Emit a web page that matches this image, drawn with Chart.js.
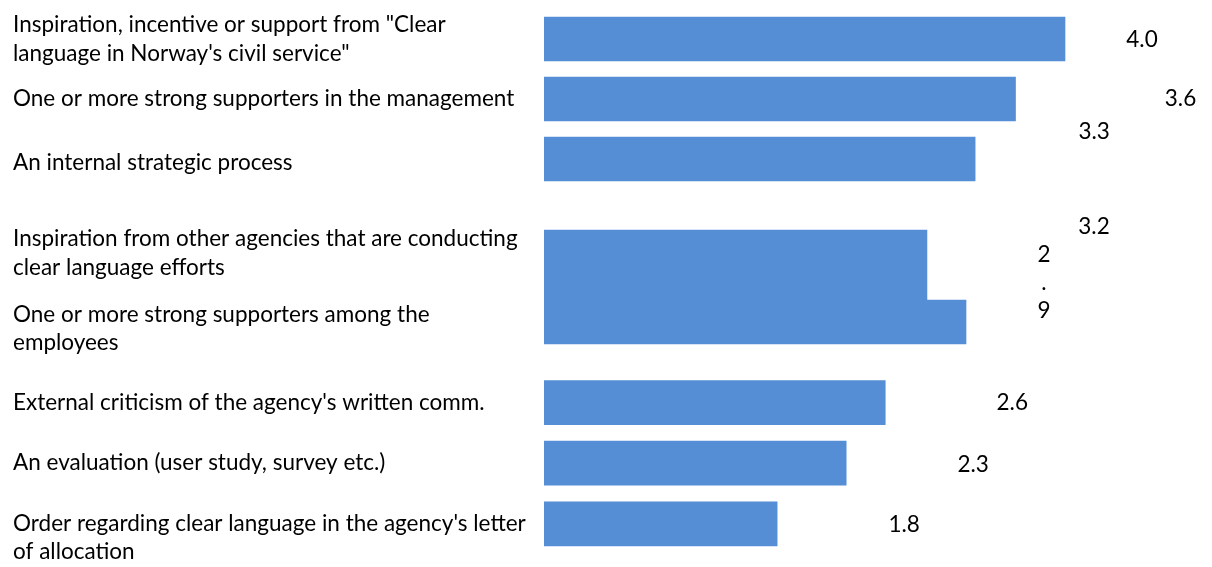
<!DOCTYPE html>
<html>
<head>
<meta charset="utf-8">
<title>Clear language efforts</title>
<script src="https://cdn.jsdelivr.net/npm/chart.js"></script>
<style>
  html, body { margin: 0; padding: 0; background: #fff; }
  #wrap { width: 1212px; height: 567px; position: relative; }
</style>
</head>
<body>
<div id="wrap"><canvas id="factors"></canvas></div>
<script>
// categories, one array of lines per bar
const categories = [
    ['Inspiration, incentive or support from "Clear', 'language in Norway\'s civil service"'],
    'One or more strong supporters in the management',
    'An internal strategic process',
    ['Inspiration from other agencies that are conducting', 'clear language efforts'],
    ['One or more strong supporters among the', 'employees'],
    'External criticism of the agency\'s written comm.',
    'An evaluation (user study, survey etc.)',
    ['Order regarding clear language in the agency\'s letter', 'of allocation']
];
const values = [4.0, 3.62, 3.31, 2.94, 3.24, 2.62, 2.32, 1.79];

// where things sit, in row units counted from the top bar
const barRow   = [0, 0.99, 1.98, 3.73, 4.67, 6.0, 7.0, 8.0];
const labelRow = [0, 0.98, 2.05, 3.53, 4.78, 6.0, 7.0, 8.23];
const tallBar = 3;          // this one is drawn thicker
// value label shift from the bar end / bar middle, px; last flag = one char per line
const labelShift = [
    [77, 1], [165, 0], [119, -27], [117, 18, true],
    [128, -95], [127, 0], [127, 2], [127, 1]
];

const barColor = '#558ED5';
const fontFamily = 'Lato, "Liberation Sans", sans-serif';
const fontSize = 22.5;
const rowPx = 60.6, firstRowPx = 39, H = 567;

const mainPts = [], tallPts = [];
values.forEach((v, i) => {
    (i === tallBar ? tallPts : mainPts).push({ x: v, y: barRow[i], i: i });
});

const rowMin = -firstRowPx / rowPx;
const rowMax = (H - firstRowPx) / rowPx;

const valueLabels = {
    id: 'valueLabels',
    afterDatasetsDraw(chart) {
        const c = chart.ctx;
        c.save();
        c.font = fontSize + 'px ' + fontFamily;
        c.fillStyle = '#000';
        c.textAlign = 'center';
        c.textBaseline = 'middle';
        chart.data.datasets.forEach((ds, d) => {
            chart.getDatasetMeta(d).data.forEach((bar, j) => {
                const i = ds.data[j].i;
                const s = labelShift[i];
                const txt = values[i].toFixed(1);
                const x = bar.x + s[0], y = bar.y + s[1];
                if (s[2]) {
                    const chars = txt.split('');
                    chars.forEach((ch, k) => c.fillText(ch, x, y + (k - (chars.length - 1) / 2) * 28));
                } else {
                    c.fillText(txt, x, y);
                }
            });
        });
        c.restore();
    }
};

const myChart = new Chart(document.getElementById('factors'), {
    type: 'bar',
    data: {
        datasets: [
            // same stack so the two sets don't share the row height
            { data: mainPts, stack: 'rows', backgroundColor: barColor, barThickness: 44 },
            { data: tallPts, stack: 'rows', backgroundColor: barColor, barThickness: 70 }
        ]
    },
    options: {
        indexAxis: 'y',
        responsive: true,
        maintainAspectRatio: false,
        animation: false,
        layout: { padding: { left: 13, right: 0, top: 0, bottom: 0 } },
        plugins: {
            legend: { display: false },
            tooltip: { enabled: false }
        },
        scales: {
            x: {
                type: 'linear',
                stacked: false,
                min: 0,
                max: 668 / 130.25,
                display: false
            },
            y: {
                type: 'linear',
                reverse: true,
                offset: false,
                min: rowMin,
                max: rowMax,
                grid: { display: false },
                border: { display: false },
                afterBuildTicks: (s) => { s.ticks = labelRow.map(v => ({ value: v })); },
                afterFit: (s) => {
                    s.width = 531;
                    // labels may hang over the ends, keep the full height for bars
                    s.paddingTop = 0;
                    s.paddingBottom = 0;
                },
                ticks: {
                    autoSkip: false,
                    crossAlign: 'far',
                    padding: 0,
                    color: '#000',
                    font: { family: fontFamily, size: fontSize, lineHeight: 1.28 },
                    callback: (v, i) => categories[i]
                }
            }
        }
    },
    plugins: [valueLabels]
});
</script>
</body>
</html>
